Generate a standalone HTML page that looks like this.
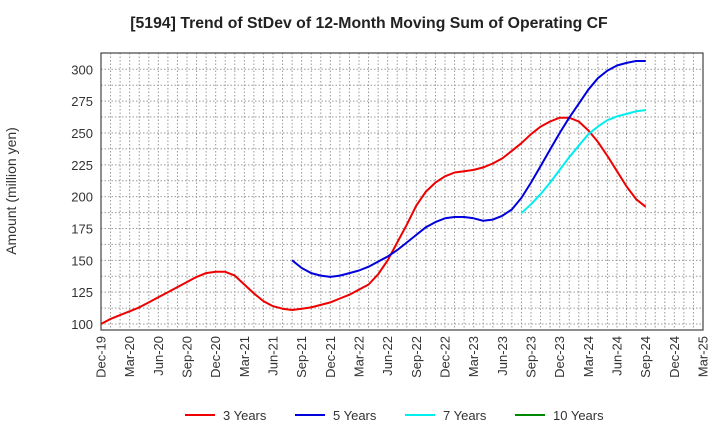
<!DOCTYPE html>
<html><head><meta charset="utf-8"><style>
body{margin:0;background:#fff;font-family:"Liberation Sans",Arial,sans-serif}
</style></head><body>
<svg id="c" width="720" height="440" xmlns="http://www.w3.org/2000/svg" font-family="Liberation Sans, Arial, sans-serif">
<text x="369" y="28" text-anchor="middle" font-size="15.8" font-weight="bold" fill="#222">[5194]  Trend of StDev of 12-Month Moving Sum of Operating CF</text>
<text transform="translate(16,191) rotate(-90)" text-anchor="middle" font-size="14" fill="#333">Amount (million yen)</text>
<g id="grid"></g>
<g id="marks"></g>
<g id="axes"></g>
<g id="legend"></g>
</svg>
<script>
const xLabels=["Dec-19","Mar-20","Jun-20","Sep-20","Dec-20","Mar-21","Jun-21","Sep-21","Dec-21","Mar-22","Jun-22","Sep-22","Dec-22","Mar-23","Jun-23","Sep-23","Dec-23","Mar-24","Jun-24","Sep-24","Dec-24","Mar-25"];
const yTicks=[100,125,150,175,200,225,250,275,300];
const s3Start=0;
const s3=[100,104,107,110,113,117,121,125,129,133,137,140,141,141,138,131,124,118,114,112,111,112,113,115,117,120,123,127,131,139,150,164,178,193,204,211,216,219,220,221,223,226,230,236,242,249,255,259,262,262,259,252,243,232,220,208,198,192];
const s5Start=20;
const s5=[150,144,140,138,137,138,140,142,145,149,153,158,164,170,176,180,183,184,184,183,181,182,185,190,199,211,224,237,250,262,273,284,293,299,303,305,306.5,306.5];
const s7Start=44;
const s7=[187,194,202,211,221,231,240,249,255,260,263,265,267,268];
const s10Start=0;
const s10=[];
const series=[{name:"3 Years",color:"#ee0000",start:s3Start,vals:s3},{name:"5 Years",color:"#0000dd",start:s5Start,vals:s5},{name:"7 Years",color:"#00eeee",start:s7Start,vals:s7},{name:"10 Years",color:"#008800",start:s10Start,vals:s10}];
const L=101,R=703,T=53,B=330,NM=63;
const xs=i=>L+i*(R-L)/NM;
const ys=v=>324-(v-100)*254.7/200;
const NS="http://www.w3.org/2000/svg";
function mk(t,a,p){const e=document.createElementNS(NS,t);for(const k in a)e.setAttribute(k,a[k]);p.appendChild(e);return e;}
const g=document.getElementById('grid'),ax=document.getElementById('axes'),m=document.getElementById('marks'),lg=document.getElementById('legend');
for(let i=1;i<NM;i++){const l=mk('line',{x1:xs(i),x2:xs(i),y1:T,y2:B,stroke:'#999','stroke-dasharray':'1.5,2','stroke-width':1},g);}
for(let v=100;v<=310;v+=12.5){if(ys(v)<T)break;const l=mk('line',{x1:L,x2:R,y1:ys(v),y2:ys(v),stroke:'#999','stroke-dasharray':'1.5,2','stroke-width':1},g);}
const fr=mk('rect',{x:L,y:T,width:R-L,height:B-T,fill:'none',stroke:'#444','stroke-width':1.2},ax);

yTicks.forEach(v=>{const t=mk('text',{x:L-8,y:ys(v)+5,'text-anchor':'end','font-size':13,fill:'#333'},ax);t.textContent=v;});
xLabels.forEach((s,i)=>{const x=xs(i*3);const t=mk('text',{transform:`translate(${x+4.5},336) rotate(-90)`,'text-anchor':'end','font-size':13,fill:'#333'},ax);t.textContent=s;});
series.forEach(s=>{if(!s.vals.length)return;const d=s.vals.map((v,i)=>(i?'L':'M')+xs(s.start+i).toFixed(1)+','+ys(v).toFixed(1)).join('');const p=mk('path',{d:d,fill:'none',stroke:s.color,'stroke-width':2,'stroke-linejoin':'round'},m);});
const lx=[185,295,405,515];
series.forEach((s,i)=>{const gg=mk('g',{},lg);mk('line',{x1:lx[i],x2:lx[i]+30,y1:415,y2:415,stroke:s.color,'stroke-width':2},gg);const t=mk('text',{x:lx[i]+38,y:420,'font-size':13,fill:'#333'},gg);t.textContent=s.name;});
</script>
</body></html>
